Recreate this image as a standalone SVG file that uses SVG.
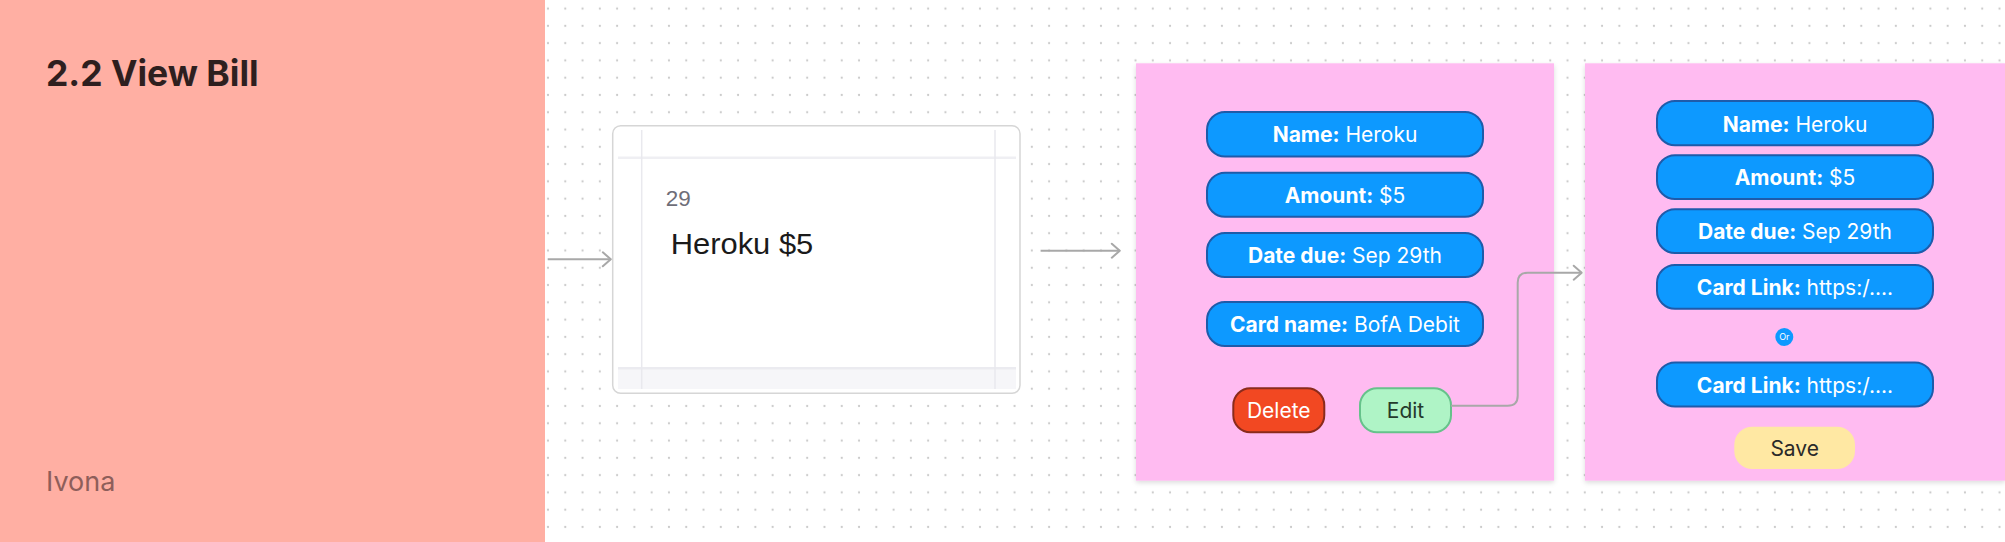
<svg xmlns="http://www.w3.org/2000/svg" width="2005" height="542" viewBox="0 0 2005 542">
<defs>
<pattern id="dots" patternUnits="userSpaceOnUse" x="539.36" y="-0.04" width="17.28" height="17.28">
<circle cx="8.64" cy="8.64" r="1.1" fill="#C9C9C9"/>
</pattern>
<filter id="shadow" x="-5%" y="-5%" width="110%" height="115%">
<feDropShadow dx="0" dy="2" stdDeviation="2.5" flood-color="#000" flood-opacity="0.14"/>
</filter>
<marker id="arrow" markerUnits="userSpaceOnUse" markerWidth="14" markerHeight="20" viewBox="-11 -10 14 20" refX="0" refY="0" orient="auto">
<path d="M-8,-7 L0,0 L-8,7" fill="none" stroke="#A8A8A8" stroke-width="2" stroke-linecap="round" stroke-linejoin="round"/>
</marker>
</defs>
<style>
text{font-family:Inter,"Noto Sans","Liberation Sans",sans-serif}
.panel{fill:#FFBBF1;filter:url(#shadow)}
.pill{fill:#0D99FF;stroke:#1E5BAA;stroke-width:2}
.pt{fill:#FFFFFF;font-size:21px;text-anchor:middle}
.pt tspan.b{font-weight:700}
.conn{fill:none;stroke:#A8A8A8;stroke-width:2;marker-end:url(#arrow)}
</style>
<rect x="0" y="0" width="2005" height="542" fill="#FFFFFF"/>
<rect x="545" y="0" width="1460" height="542" fill="url(#dots)"/>

<g id="section">
<rect x="0" y="0" width="545" height="542" fill="#FFAFA3"/>
<text x="46" y="86" font-size="35.5" font-weight="700" fill="#2E1F1F">2.2 View Bill</text>
<text x="46" y="491" font-size="27" fill="#8E5E5A">Ivona</text>
</g>

<g id="calendar-card">
<rect x="612.7" y="125.7" width="407.3" height="267.6" rx="8" fill="#FFFFFF" stroke="#D6D6D6" stroke-width="1.5"/>
<rect x="618" y="368" width="398" height="21" fill="#F6F6F9"/>
<line x1="618" y1="157.7" x2="1016" y2="157.7" stroke="#EFEFF3" stroke-width="2.5"/>
<line x1="618" y1="368.3" x2="1016" y2="368.3" stroke="#EBEBF0" stroke-width="2.5"/>
<line x1="641.7" y1="130" x2="641.7" y2="389" stroke="#E9E9EE" stroke-width="1.5"/>
<line x1="995" y1="130" x2="995" y2="389" stroke="#E9E9EE" stroke-width="1.5"/>
<text x="665.7" y="205.7" font-size="22" fill="#6E6E78" textLength="25" lengthAdjust="spacingAndGlyphs" style="font-family:'Liberation Sans',Arial,sans-serif">29</text>
<text x="670.7" y="254.3" font-size="29" fill="#1A1A1A" textLength="142.6" lengthAdjust="spacingAndGlyphs" style="font-family:'Liberation Sans',Arial,sans-serif">Heroku $5</text>
</g>

<g id="bill-details">
<rect class="panel" x="1136" y="63.3" width="418" height="417.4"/>
<rect class="pill" x="1207" y="112" width="276" height="44.5" rx="18"/>
<text class="pt" x="1345" y="142.3"><tspan class="b">Name:</tspan> Heroku</text>
<rect class="pill" x="1207" y="172.7" width="276" height="44" rx="18"/>
<text class="pt" x="1345" y="202.7"><tspan class="b">Amount:</tspan> $5</text>
<rect class="pill" x="1207" y="233" width="276" height="44" rx="18"/>
<text class="pt" x="1345" y="263"><tspan class="b">Date due:</tspan> Sep 29th</text>
<rect class="pill" x="1207" y="302" width="276" height="44" rx="18"/>
<text class="pt" x="1345" y="332"><tspan class="b">Card name:</tspan> BofA Debit</text>
<g id="delete-btn">
<rect x="1233.3" y="388.3" width="91" height="44" rx="17" fill="#F24822" stroke="#8A2B1C" stroke-width="2"/>
<text x="1278.8" y="418.3" font-size="21" fill="#FFFFFF" text-anchor="middle">Delete</text>
</g>
<g id="edit-btn">
<rect x="1360" y="388.3" width="91" height="44" rx="17" fill="#AFF4C6" stroke="#66C28B" stroke-width="2"/>
<text x="1405.5" y="418.3" font-size="21" fill="#243A2C" text-anchor="middle">Edit</text>
</g>
</g>

<g id="edit-bill">
<rect class="panel" x="1585" y="63.3" width="420" height="417.4"/>
<rect class="pill" x="1657" y="101" width="276" height="44.3" rx="18"/>
<text class="pt" x="1795" y="131.5"><tspan class="b">Name:</tspan> Heroku</text>
<rect class="pill" x="1657" y="155.3" width="276" height="43.7" rx="18"/>
<text class="pt" x="1795" y="185.3"><tspan class="b">Amount:</tspan> $5</text>
<rect class="pill" x="1657" y="209.3" width="276" height="43.7" rx="18"/>
<text class="pt" x="1795" y="239.3"><tspan class="b">Date due:</tspan> Sep 29th</text>
<rect class="pill" x="1657" y="265" width="276" height="43.7" rx="18"/>
<text class="pt" x="1795" y="295"><tspan class="b">Card Link:</tspan> https:/....</text>
<g id="or-badge">
<circle cx="1784.3" cy="337" r="9" fill="#0D99FF"/>
<text x="1784.3" y="340.2" font-size="9" fill="#FFFFFF" text-anchor="middle">Or</text>
</g>
<rect class="pill" x="1657" y="362.5" width="276" height="44" rx="18"/>
<text class="pt" x="1795" y="392.5"><tspan class="b">Card Link:</tspan> https:/....</text>
<g id="save-btn">
<rect x="1734.3" y="426.7" width="120.7" height="42.3" rx="18" fill="#FFE8A3"/>
<text x="1794.7" y="456" font-size="21" fill="#2A2A2A" text-anchor="middle">Save</text>
</g>
</g>

<g id="connectors">
<path class="conn" d="M547.7 259.3 H610.8"/>
<path class="conn" d="M1040.6 250.7 H1119.8"/>
<path class="conn" d="M1451 405.7 H1507.7 Q1517.7 405.7 1517.7 395.7 V282.7 Q1517.7 272.7 1527.7 272.7 H1581.7"/>
</g>
</svg>
